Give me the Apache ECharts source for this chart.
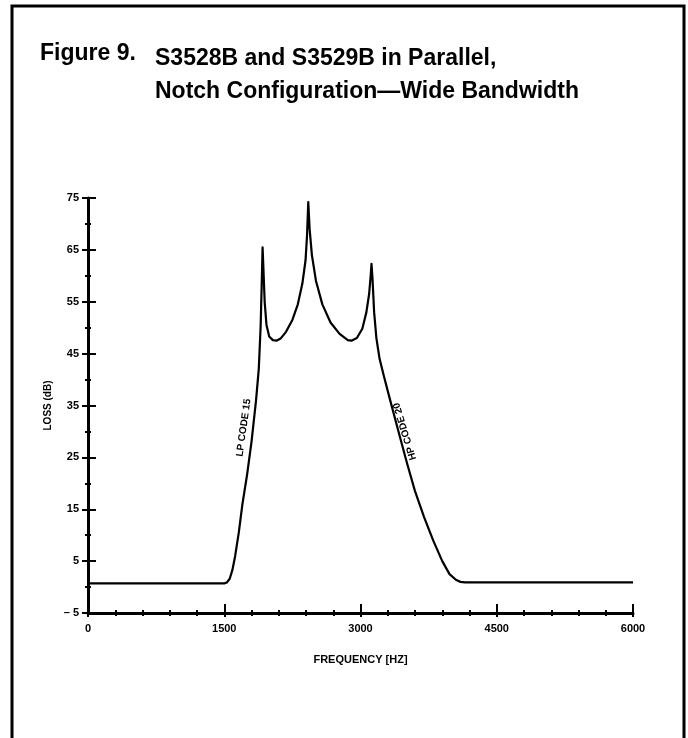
<!DOCTYPE html>
<html>
<head>
<meta charset="utf-8">
<script src="https://cdn.jsdelivr.net/npm/echarts@6/dist/echarts.min.js"></script>
<style>
  html, body { margin: 0; padding: 0; background: #fff; }
  #chart { width: 688px; height: 738px; }
</style>
</head>
<body>
<div id="chart"></div>
<script>
// frequency (Hz) and loss (dB)
const freqHz = [0, 1500, 1530, 1560, 1590, 1620, 1660, 1700, 1750, 1800, 1850, 1880, 1900, 1912, 1922,
  1932, 1945, 1965, 1995, 2035, 2075, 2120, 2180, 2250, 2310, 2360, 2395, 2412, 2425,
  2440, 2465, 2510, 2580, 2670, 2770, 2860, 2900, 2960, 3020, 3065, 3095, 3112, 3121,
  3132, 3150, 3175, 3210, 3260, 3330, 3410, 3510, 3600, 3700, 3800, 3900, 3980, 4050,
  4100, 4150, 6000]
const lossDb = [0.7, 0.7, 0.9, 1.6, 3.3, 6, 10.5, 16, 21.5, 28, 36, 42, 50, 58, 65.5,
  61, 55, 50.5, 48.3, 47.6, 47.5, 47.9, 49.2, 51.5, 54.5, 58.5, 63, 68, 74.2,
  69, 64, 59, 54.5, 51, 48.8, 47.6, 47.5, 48, 49.8, 53, 56.5, 60, 62.3,
  59.5, 53, 48, 44, 40.5, 35.8, 30.5, 24, 18.5, 13.5, 9, 5, 2.5, 1.4,
  1.0, 0.9, 0.9]

// curve annotations: [text, freq, loss, angle]
const notes = [
  ['LP CODE 15', 1715, 30.7, 82],
  ['HP CODE 20', 3490, 30, 107],
]

const xTicks = { min: 0, max: 6000, interval: 1500 }
const yTicks = { min: -5, max: 75, interval: 10 }

const font = '"Liberation Sans", Arial, sans-serif'

const chart = echarts.init(document.getElementById('chart'))

// second axes only draw the outer half of the crossing ticks
const axisBase = {
  axisLine: { show: false, onZero: false },
  axisLabel: { show: false },
  splitLine: { show: false },
  axisTick: { show: true, inside: false, length: 4, lineStyle: { color: '#000', width: 2 } },
  minorTick: { show: true, length: 3, lineStyle: { color: '#000', width: 2 } },
}

const option = {
  animation: false,
  backgroundColor: '#fff',
  title: [
    {
      text: 'Figure 9.',
      left: 40, top: 42, padding: 0,
      textStyle: { fontFamily: font, fontWeight: 'bold', fontSize: 23, color: '#000' },
    },
    {
      text: 'S3528B and S3529B in Parallel,\nNotch Configuration\u2014Wide Bandwidth',
      left: 155, top: 42, padding: 0,
      textStyle: { fontFamily: font, fontWeight: 'bold', fontSize: 23, lineHeight: 33, color: '#000' },
    },
  ],
  graphic: [
    {
      type: 'rect',
      shape: { x: 12, y: 6, width: 672, height: 760 },
      style: { fill: 'none', stroke: '#000', lineWidth: 3 },
    },
  ],
  grid: { left: 88, right: 55, top: 198, bottom: 125 },
  xAxis: [
    {
      type: 'value',
      ...xTicks,
      position: 'bottom',
      name: 'FREQUENCY [HZ]',
      nameLocation: 'middle',
      nameGap: 41,
      nameTextStyle: { fontFamily: font, fontWeight: 'bold', fontSize: 11, color: '#000' },
      axisLine: { show: true, onZero: false, lineStyle: { color: '#000', width: 3 } },
      axisTick: { show: true, inside: true, length: 9, lineStyle: { color: '#000', width: 2 } },
      minorTick: { show: true, splitNumber: 5, length: 3, lineStyle: { color: '#000', width: 2 } },
      axisLabel: {
        fontFamily: font, fontWeight: 'bold', fontSize: 11, color: '#000', margin: 10,
        formatter: v => String(v),
      },
      splitLine: { show: false },
    },
    {
      type: 'value', ...xTicks, ...axisBase, position: 'bottom',
      minorTick: { ...axisBase.minorTick, splitNumber: 5 },
    },
  ],
  yAxis: [
    {
      type: 'value',
      ...yTicks,
      position: 'left',
      name: 'LOSS (dB)',
      nameLocation: 'middle',
      nameGap: 27,
      nameTextStyle: { fontFamily: font, fontWeight: 'bold', fontSize: 10, color: '#000' },
      axisLine: { show: true, onZero: false, lineStyle: { color: '#000', width: 3 } },
      axisTick: { show: true, inside: true, length: 8, lineStyle: { color: '#000', width: 2 } },
      minorTick: { show: true, splitNumber: 2, length: 3, lineStyle: { color: '#000', width: 2 } },
      axisLabel: {
        fontFamily: font, fontWeight: 'bold', fontSize: 11, color: '#000', margin: 9,
        formatter: v => (v < 0 ? '\u2013 ' + Math.abs(v) : String(v)),
      },
      splitLine: { show: false },
    },
    {
      type: 'value', ...yTicks, ...axisBase, position: 'left',
      axisTick: { ...axisBase.axisTick, length: 6 },
      minorTick: { ...axisBase.minorTick, splitNumber: 2 },
    },
  ],
  series: [
    {
      type: 'line',
      data: freqHz.map((f, i) => [f, lossDb[i]]),
      showSymbol: false,
      smooth: false,
      lineStyle: { color: '#000', width: 2.2, join: 'round' },
      markPoint: {
        symbol: 'circle',
        symbolSize: 1,
        itemStyle: { color: 'rgba(0,0,0,0)' },
        data: notes.map(n => ({
          coord: [n[1], n[2]],
          label: {
            show: true, formatter: n[0], rotate: n[3], position: 'inside',
            fontFamily: font, fontWeight: 'bold', fontSize: 10, color: '#000',
          },
        })),
      },
    },
  ],
}

chart.setOption(option)
</script>
</body>
</html>
